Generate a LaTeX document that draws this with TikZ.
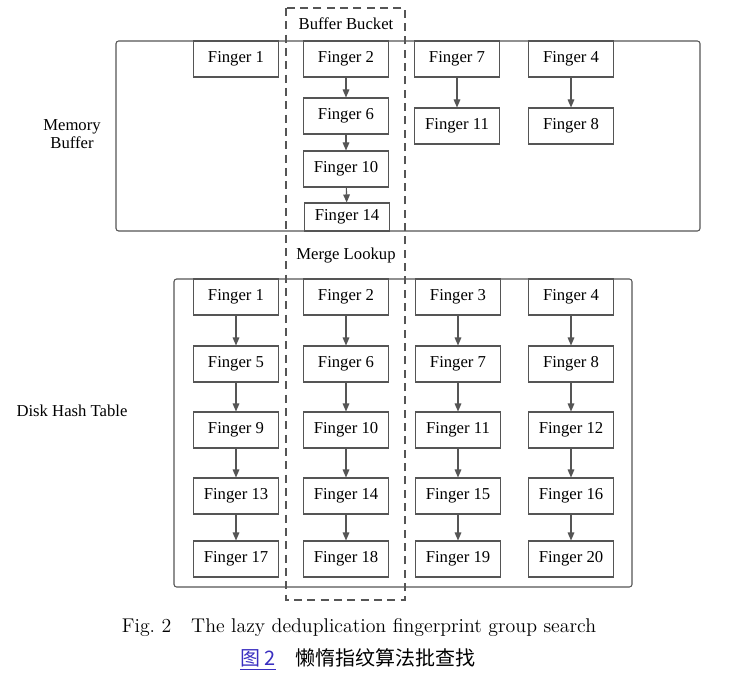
\documentclass[tikz,border=0pt]{standalone}
\usepackage{fontspec}
\usepackage{tikz}
\usetikzlibrary{positioning,arrows.meta}
\newfontfamily\tnr{Liberation Serif}
\newfontfamily\cjk{Noto Sans CJK SC}
\definecolor{linegray}{HTML}{555555}
\definecolor{figblue}{HTML}{3A2FC0}

\begin{document}
\begin{tikzpicture}[
  x=0.75pt, y=-0.75pt,
  finger/.style={draw=linegray, thick, minimum width=63.75pt,
                 minimum height=27pt, inner sep=0pt, font=\tnr\fontsize{12.5}{14}\selectfont,
                 fill=white},
  area/.style={draw=linegray, thick, rounded corners=2pt},
  arr/.style={-{Triangle[length=6pt,width=5pt]}, thick, draw=linegray},
  lbl/.style={font=\tnr\fontsize{12.5}{14}\selectfont, align=center}
]
  \useasboundingbox (0,0) rectangle (735,688);

  % Outer areas
  \draw[area] (116,41) rectangle (700,231);
  \draw[area] (174,279) rectangle (632,587);
  \node[lbl] (mem) at (72,134) {Memory\\Buffer};
  \node[lbl] (disk) at (72,411) {Disk Hash Table};

  % Memory buffer
  \node[finger] (m1) at (236,59) {Finger 1};
  \node[finger] (m2) at (346,59) {Finger 2};
  \node[finger] (m6) at (346,116) {Finger 6};
  \node[finger] (m10) at (346,169) {Finger 10};
  \node[finger, minimum height=21pt] (m14) at (347,217) {Finger 14};
  \node[finger] (m7) at (457,59) {Finger 7};
  \node[finger] (m11) at (457,126) {Finger 11};
  \node[finger] (m4) at (571,59) {Finger 4};
  \node[finger] (m8) at (571,126) {Finger 8};
  \draw[arr] (m2) -- (m6);
  \draw[arr] (m6) -- (m10);
  \draw[arr] (m10) -- (m14);
  \draw[arr] (m7) -- (m11);
  \draw[arr] (m4) -- (m8);

  % Disk hash table
  \node[finger] (d1) at (236,297) {Finger 1};
  \node[finger] (d5) at (236,364) {Finger 5};
  \node[finger] (d9) at (236,430) {Finger 9};
  \node[finger] (d13) at (236,496) {Finger 13};
  \node[finger] (d17) at (236,559) {Finger 17};
  \node[finger] (d2) at (346,297) {Finger 2};
  \node[finger] (d6) at (346,364) {Finger 6};
  \node[finger] (d10) at (346,430) {Finger 10};
  \node[finger] (d14) at (346,496) {Finger 14};
  \node[finger] (d18) at (346,559) {Finger 18};
  \node[finger] (d3) at (458,297) {Finger 3};
  \node[finger] (d7) at (458,364) {Finger 7};
  \node[finger] (d11) at (458,430) {Finger 11};
  \node[finger] (d15) at (458,496) {Finger 15};
  \node[finger] (d19) at (458,559) {Finger 19};
  \node[finger] (d4) at (571,297) {Finger 4};
  \node[finger] (d8) at (571,364) {Finger 8};
  \node[finger] (d12) at (571,430) {Finger 12};
  \node[finger] (d16) at (571,496) {Finger 16};
  \node[finger] (d20) at (571,559) {Finger 20};
  \draw[arr] (d1) -- (d5);
  \draw[arr] (d5) -- (d9);
  \draw[arr] (d9) -- (d13);
  \draw[arr] (d13) -- (d17);
  \draw[arr] (d2) -- (d6);
  \draw[arr] (d6) -- (d10);
  \draw[arr] (d10) -- (d14);
  \draw[arr] (d14) -- (d18);
  \draw[arr] (d3) -- (d7);
  \draw[arr] (d7) -- (d11);
  \draw[arr] (d11) -- (d15);
  \draw[arr] (d15) -- (d19);
  \draw[arr] (d4) -- (d8);
  \draw[arr] (d8) -- (d12);
  \draw[arr] (d12) -- (d16);
  \draw[arr] (d16) -- (d20);

  % Bucket column
  \draw[linegray, thick, dash pattern=on 6pt off 4pt] (286,8) rectangle (405,600);
  \node[lbl] (bucket) at (346,24) {Buffer Bucket};
  \node[lbl] (merge) at (346,256) {Merge Lookup};

  % Caption
  \node[font=\fontsize{14.9}{17}\selectfont] (cap) at (359,628)
    {Fig.~2\quad The lazy deduplication fingerprint group search};
  \node[font=\cjk\fontsize{15}{17}\selectfont] (capcn) at (358,659)
    {\textcolor{figblue}{\underline{图 2}}\quad 懒惰指纹算法批查找};
\end{tikzpicture}
\end{document}
